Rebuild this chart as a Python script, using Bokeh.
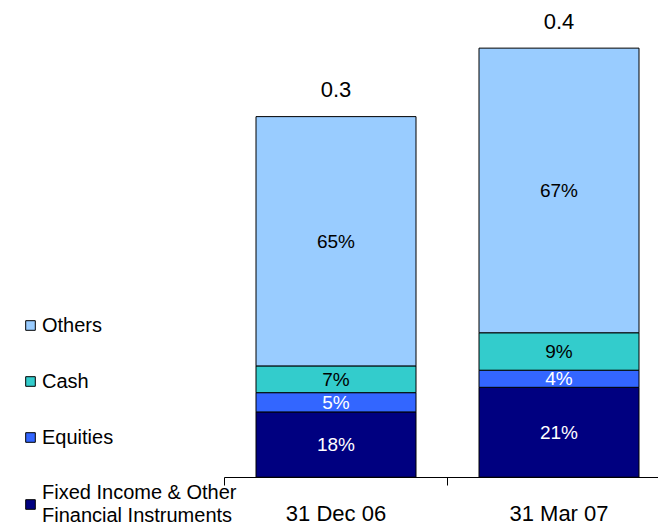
from bokeh.plotting import figure
from bokeh.models import ColumnDataSource, Range1d, FixedTicker, Legend, LegendItem
from bokeh.embed import file_html
from bokeh.resources import INLINE
from bokeh.core.properties import value

# ---- data ----
periods = ["31 Dec 06", "31 Mar 07"]
series = ["Fixed Income & Other\nFinancial Instruments", "Equities", "Cash", "Others"]
fixed_income = [0.061, 0.084]
equities = [0.018, 0.016]
cash = [0.025, 0.035]
others = [0.233, 0.266]
pct_fixed_income = ["18%", "21%"]
pct_equities = ["5%", "4%"]
pct_cash = ["7%", "9%"]
pct_others = ["65%", "67%"]
total_labels = ["0.3", "0.4"]
colors = ["#000080", "#3366FF", "#33CCCC", "#99CCFF"]
pct_colors = ["white", "white", "black", "black"]

FONT = "Liberation Sans"
W, H = 658, 528
BASE = 476.7          # baseline pixel from top
PX_PER_UNIT = 1070.0
CAT_PX = 223.0
AX_LEFT = 224.0

xs = [i + 0.5 for i in range(len(periods))]
values = [fixed_income, equities, cash, others]
pcts = [pct_fixed_income, pct_equities, pct_cash, pct_others]
keys = ["fi", "eq", "cash", "oth"]

data = {"x": xs}
for k, v in zip(keys, values):
    data[k] = v
src = ColumnDataSource(data)

x_end = (W - AX_LEFT) / CAT_PX
p = figure(width=W, height=H, output_backend="svg", toolbar_location=None,
           x_range=Range1d(-AX_LEFT / CAT_PX, x_end),
           y_range=Range1d(-(H - BASE) / PX_PER_UNIT, BASE / PX_PER_UNIT),
           y_axis_location=None, min_border_left=0, min_border_right=0,
           min_border_top=0, min_border_bottom=0)
p.outline_line_color = None
p.xgrid.visible = False
p.ygrid.visible = False
p.background_fill_color = "white"
p.border_fill_color = "white"

rends = p.vbar_stack(keys, x="x", width=160 / CAT_PX, source=src, color=colors,
                     line_color="black", line_width=1)

# segment labels
bottoms = [0.0] * len(periods)
for vals, labs, tc in zip(values, pcts, pct_colors):
    centers = [b + v / 2 for b, v in zip(bottoms, vals)]
    p.text(x=xs, y=centers, text=labs, text_align="center", text_baseline="middle",
           text_font=value(FONT), text_font_size="19px", text_color=tc)
    bottoms = [b + v for b, v in zip(bottoms, vals)]

# totals
p.text(x=xs, y=bottoms, text=total_labels, text_align="center", text_baseline="middle",
       y_offset=-27, text_font=value(FONT), text_font_size="22px", text_color="black")

# x axis
ax = p.xaxis[0]
ax.fixed_location = 0
ax.ticker = FixedTicker(ticks=xs, minor_ticks=[0, 1, 2])
ax.major_label_overrides = {x: lab for x, lab in zip(xs, periods)}
ax.bounds = (0, x_end)
ax.major_tick_out = 0
ax.major_tick_in = 0
ax.minor_tick_out = 8
ax.minor_tick_in = 0
ax.minor_tick_line_color = "black"
ax.axis_line_color = "black"
ax.major_label_standoff = 16
ax.major_label_text_font = FONT
ax.major_label_text_font_size = "22px"
ax.major_label_text_color = "black"

items = [LegendItem(label=series[i], renderers=[rends[i]]) for i in [3, 2, 1, 0]]
legend = Legend(items=items, location=(24, 1), orientation="vertical",
                glyph_width=12, glyph_height=12, label_height=24, spacing=32,
                label_standoff=6, padding=0, margin=0, border_line_color=None,
                background_fill_alpha=0, label_text_font=FONT,
                label_text_font_size="20px", label_text_color="black")
p.add_layout(legend, "center")

open("out.html", "w").write(file_html(p, INLINE))
